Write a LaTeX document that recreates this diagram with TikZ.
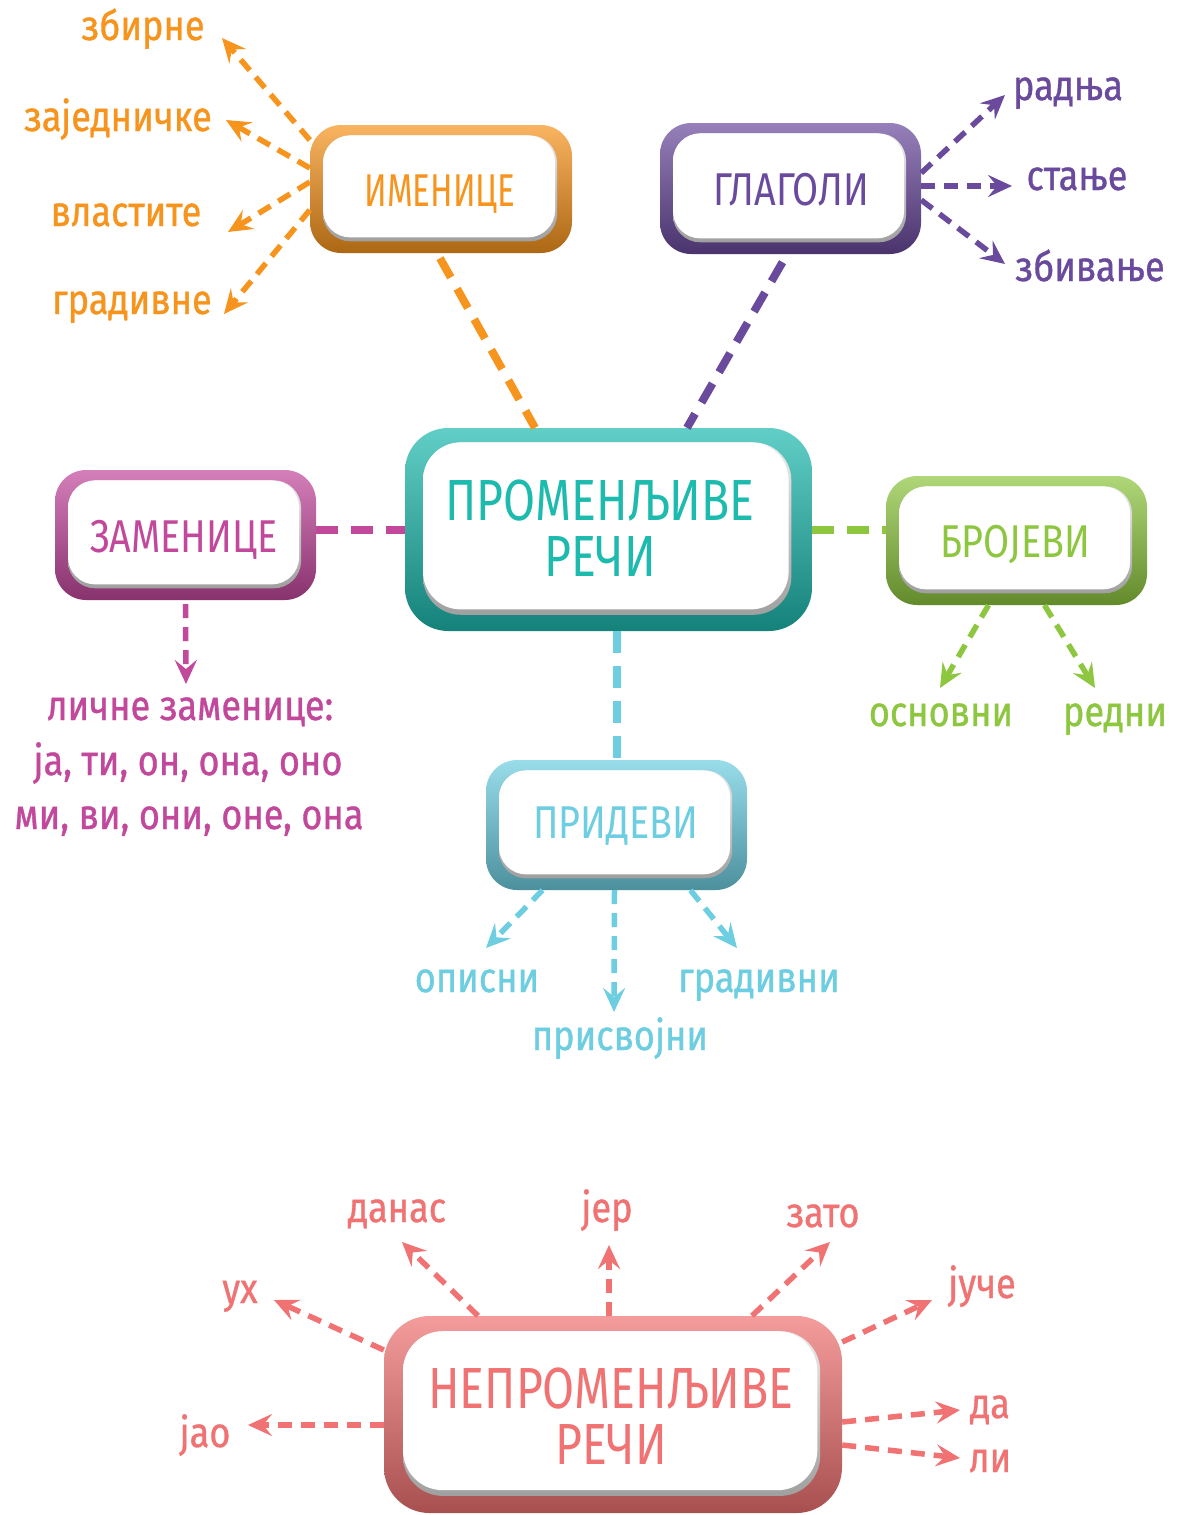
\documentclass[tikz,border=0pt]{standalone}
\usepackage{fontspec}
\setmainfont{Fira Sans}
\newfontfamily\labfont[FakeStretch=0.86,FakeBold=0.8]{Fira Sans}
\newfontfamily\ttlfont[FakeStretch=0.82]{Fira Sans}
\newfontfamily\narrowfont[FakeStretch=0.72]{Fira Sans}
\newfontfamily\bigfont[FakeStretch=0.8]{Fira Sans}
\usetikzlibrary{arrows.meta,calc}
\definecolor{corange}{HTML}{F7941D}
\definecolor{cpurple}{HTML}{6A4A9C}
\definecolor{cteal}{HTML}{1DBAAE}
\definecolor{cmag}{HTML}{C2489C}
\definecolor{cgreen}{HTML}{8DC63F}
\definecolor{cblue}{HTML}{6DCDE1}
\definecolor{csalmon}{HTML}{F07272}
\tikzset{
  mainlink/.style={line width=8pt, dash pattern=on 22pt off 13pt},
  sublink/.style={line width=5.5pt, dash pattern=on 14pt off 9pt, -{Stealth[length=24pt,width=22pt,inset=9pt]}},
  lab/.style={font=\labfont\fontsize{42}{52}\selectfont, inner sep=0pt, anchor=base},
  ttl/.style={font=\ttlfont\fontsize{46}{52}\selectfont, inner sep=0pt, anchor=base},
  bigttl/.style={font=\bigfont\fontsize{58}{56}\selectfont, inner sep=0pt, align=center},
}
% #1 name, #2 x1, #3 y1, #4 x2, #5 y2, #6 colour, #7 inset
\newcommand\mapbox[7]{%
  \pgfmathsetmacro\ro{2.4*#7}%
  \pgfmathsetmacro\ri{2.1*#7}%
  \shade[rounded corners=\ro pt, top color=#6!70!white, middle color=#6, bottom color=#6!70!black]
    (#2,#3) rectangle (#4,#5);
  \shade[rounded corners=\ri pt, top color=gray!15, bottom color=gray!75]
    ({#2+#7},{#3+0.8*#7}) rectangle ({#4-1.15*#7},{#5-0.9*#7});
  \fill[white, rounded corners=\ri pt]
    ({#2+#7},{#3+0.8*#7}) rectangle ({#4-1.3*#7},{#5-1.2*#7});
  \node[minimum width={(#4-#2)*1pt}, minimum height={(#5-#3)*1pt}, inner sep=0pt]
    (#1) at ({(#2+#4)/2},{(#3+#5)/2}) {};
}
\begin{document}
\begin{tikzpicture}[x=1pt,y=-1pt]
\useasboundingbox (0,0) rectangle (1176,1515);
\fill[white] (0,0) rectangle (1176,1515);

% boxes
\mapbox{imen}{310}{125}{572}{253}{corange}{13}
\mapbox{glag}{660}{123}{921}{254}{cpurple}{13}
\mapbox{prom}{405}{428}{812}{631}{cteal}{18}
\mapbox{zam}{55}{470}{316}{600}{cmag}{13}
\mapbox{broj}{886}{476}{1147}{605}{cgreen}{13}
\mapbox{prid}{486}{760}{747}{890}{cblue}{13}
\mapbox{neprom}{384}{1316}{842}{1513}{csalmon}{19}

% box titles
\node[ttl, font=\narrowfont\fontsize{46}{52}\selectfont, text=corange] (imentxt) at (440,206) {ИМЕНИЦЕ};
\node[ttl, text=cpurple] (glagtxt) at (791,205) {ГЛАГОЛИ};
\node[ttl, text=cmag] (zamtxt) at (184,552) {ЗАМЕНИЦЕ};
\node[ttl, text=cgreen] (brojtxt) at (1015,557) {БРОЈЕВИ};
\node[ttl, text=cblue] (pridtxt) at (616,838) {ПРИДЕВИ};
\node[bigttl, text=cteal] (promtxt) at (600,528) {ПРОМЕНЉИВЕ\\РЕЧИ};
\node[bigttl, text=csalmon] (nepromtxt) at (611,1416) {НЕПРОМЕНЉИВЕ\\РЕЧИ};

% labels
\node[lab, text=corange] (zbirne) at (143,40) {збирне};
\node[lab, text=corange] (zajed) at (118,131) {заједничке};
\node[lab, text=corange] (vlast) at (126,226) {властите};
\node[lab, text=corange] (gradn) at (132,314) {градивне};
\node[lab, text=cpurple] (radnja) at (1068,100) {радња};
\node[lab, text=cpurple] (stanje) at (1077,190) {стање};
\node[lab, text=cpurple] (zbiv) at (1090,281) {збивање};
\node[lab, text=cmag] (licne1) at (190,720) {личне заменице:};
\node[lab, text=cmag] (licne2) at (188,775) {ја, ти, он, она, оно};
\node[lab, text=cmag] (licne3) at (189,829) {ми, ви, они, оне, она};
\node[lab, text=cgreen] (osn) at (941,726) {основни};
\node[lab, text=cgreen] (redni) at (1115,726) {редни};
\node[lab, text=cblue] (opisni) at (477,992) {описни};
\node[lab, text=cblue] (prisv) at (620,1050) {присвојни};
\node[lab, text=cblue] (gradv) at (759,992) {градивни};
\node[lab, text=csalmon] (jao) at (205,1447) {јао};
\node[lab, text=csalmon] (uh) at (240,1303) {ух};
\node[lab, text=csalmon] (danas) at (397,1222) {данас};
\node[lab, text=csalmon] (jer) at (607,1222) {јер};
\node[lab, text=csalmon] (zato) at (823,1227) {зато};
\node[lab, text=csalmon] (juce) at (982,1298) {јуче};
\node[lab, text=csalmon] (da) at (990,1418) {да};
\node[lab, text=csalmon] (li) at (990,1472) {ли};

% main links
\draw[mainlink, corange] ($(imen.south)+(-1,5)$) -- ($(prom.north)+(-73.5,0)$);
\draw[mainlink, cpurple] ($(glag.south)+(-8,8)$) -- ($(prom.north)+(78.5,0)$);
\draw[mainlink, cmag] (zam.east |- prom.west) -- (prom.west);
\draw[mainlink, cgreen] (prom.east) -- (broj.west |- prom.east);
\draw[mainlink, cblue] ($(prom.south)+(8,0)$) -- (prid.north);

% sub links
\draw[sublink, corange] (imen.west |- 0,140) -- ($(zbirne.base)+(79,-2)$);
\draw[sublink, corange] (imen.west |- 0,168) -- ($(zajed.base)+(108,-11)$);
\draw[sublink, corange] (imen.west |- 0,182) -- ($(vlast.base)+(102,6)$);
\draw[sublink, corange] (imen.west |- 0,210) -- ($(gradn.base)+(92,0)$);
\draw[sublink, cpurple] (glag.east |- 0,173) -- ($(radnja.base)+(-63,-5)$);
\draw[sublink, cpurple] (glag.east |- 0,186) -- ($(stanje.base)+(-65,-4)$);
\draw[sublink, cpurple] (glag.east |- 0,200) -- ($(zbiv.base)+(-85,-17)$);
\draw[sublink, cmag] ($(zam.south)+(0,4)$) -- ($(licne1.base)+(-4,-36)$);
\draw[sublink, cgreen] ($(broj.south)+(-28,0)$) -- ($(osn.base)+(-1,-38)$);
\draw[sublink, cgreen] ($(broj.south)+(28,0)$) -- ($(redni.base)+(-20,-38)$);
\draw[sublink, cblue] ($(prid.south)+(-74,0)$) -- ($(opisni.base)+(9,-44)$);
\draw[sublink, cblue] ($(prid.south)+(-2,0)$) -- ($(prisv.base)+(-6,-38)$);
\draw[sublink, cblue] ($(prid.south)+(74,0)$) -- ($(gradv.base)+(-22,-44)$);
\draw[sublink, csalmon] (neprom.west |- 0,1425) -- ($(jao.base)+(43,-22)$);
\draw[sublink, csalmon] (neprom.west |- 0,1350) -- ($(uh.base)+(34,-3)$);
\draw[sublink, csalmon] ($(neprom.north)+(-135,0)$) -- ($(danas.base)+(5,20)$);
\draw[sublink, csalmon] ($(neprom.north)+(-4,0)$) -- ($(jer.base)+(2,23)$);
\draw[sublink, csalmon] ($(neprom.north)+(139,0)$) -- ($(zato.base)+(7,15)$);
\draw[sublink, csalmon] (neprom.east |- 0,1342) -- ($(juce.base)+(-50,2)$);
\draw[sublink, csalmon] (neprom.east |- 0,1422) -- ($(da.base)+(-30,-8)$);
\draw[sublink, csalmon] (neprom.east |- 0,1445) -- ($(li.base)+(-30,-14)$);
\end{tikzpicture}
\end{document}
